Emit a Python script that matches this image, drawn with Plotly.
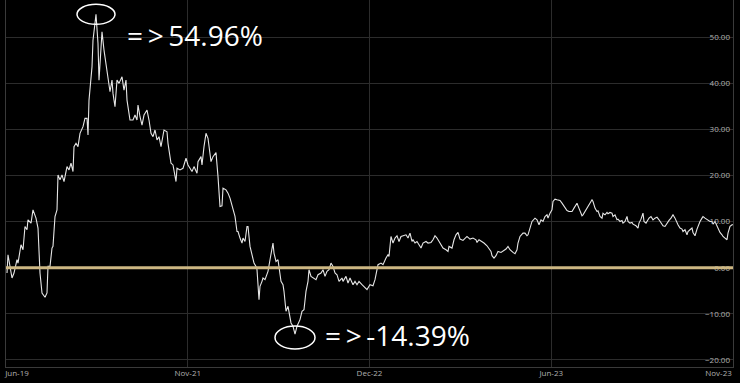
import plotly.graph_objects as go

# observation index (trading-session number) and cumulative return in %
obs = [1, 2, 6, 8, 11, 12, 15, 17, 19, 21, 22, 25, 27, 30, 32, 34, 36, 39, 41, 42, 44, 46, 47, 49, 51,
       52, 54, 56, 58, 61, 63, 65, 67, 68, 70, 72, 74, 77, 79, 81, 82, 83, 86, 87, 90, 92, 93, 95, 96,
       98, 101, 102, 104, 106, 107, 109, 111, 113, 116, 118, 120, 121, 124, 127, 129, 131, 132, 134,
       136, 138, 141, 143, 145, 147, 149, 151, 153, 155, 156, 158, 161, 162, 165, 167, 170, 171, 174,
       177, 180, 182, 186, 188, 191, 192, 195, 196, 198, 200, 202, 205, 207, 210, 212, 214, 216, 217,
       220, 222, 224, 226, 227, 229, 231, 232, 234, 236, 237, 239, 241, 242, 244, 246, 248, 250, 251,
       253, 254, 256, 257, 259, 261, 262, 264, 266, 267, 268, 270, 272, 273, 275, 277, 278, 280, 282,
       285, 287, 289, 291, 294, 296, 298, 300, 302, 303, 305, 307, 310, 312, 315, 317, 319, 321, 323,
       325, 327, 329, 331, 333, 336, 337, 340, 342, 344, 347, 349, 351, 353, 356, 358, 361, 363,
       364, 367, 369, 371, 372, 375, 377, 380, 382, 383, 385, 387, 389, 391, 393, 395, 397, 400, 402,
       404, 406, 407, 409, 411, 413, 415, 417, 420, 422, 425, 427, 429, 431, 433, 436, 437, 440, 442,
       443, 446, 448, 450, 452, 454, 457, 459, 461, 464, 467, 470, 471, 473, 476, 478, 481, 483, 485,
       486, 488, 490, 492, 495, 497, 500, 502, 504, 507, 509, 511, 512, 514, 517, 519, 521, 522, 524,
       526, 529, 531, 533, 535, 537, 539, 541, 542, 544, 546, 547, 549, 551, 554,
       556, 558, 561, 563, 566, 568, 571, 572, 574, 576, 577, 579, 581, 583, 586, 587, 589, 591, 592,
       594, 596, 597, 599, 601, 602, 604, 606, 607, 609, 611, 612, 614, 616, 617, 619, 621, 622, 624,
       626, 627, 630, 632, 633, 635, 637, 638, 640, 642, 643, 645, 647, 649, 651, 653, 655, 657, 659,
       661, 663, 665, 667, 669, 671, 672, 674, 676, 677, 679, 681, 682, 684, 686, 687, 689, 691, 692,
       694, 696, 697, 699, 701, 702, 704, 706, 707, 709, 711, 712, 714, 716, 717, 719, 721, 722, 724,
       726, 727]

pct = [-1.15, 2.81, -2.24, -1.15, 1.73, 1.01, 4.98, 3.90, 8.95, 8.23, 10.39, 9.67, 12.55, 10.75, 8.59,
       -1.15, -5.48, -6.42, -5.48, 0.29, 0.29, 4.26, 4.62, 11.11, 12.55,
       20.13, 19.05, 20.13, 18.69, 21.93, 21.21, 22.66, 20.85, 26.26, 26.98, 26.26, 29.15, 30.59, 32.40,
       32.40, 28.79, 36.36, 43.57, 49.35, 54.96, 48.63, 40.69, 46.47, 51.15,
       47.19, 42.86, 41.41, 38.16, 40.69, 37.81, 34.91, 40.69, 39.98, 41.41, 38.53, 40.69, 36.36, 32.03,
       32.03, 33.12, 32.03, 35.28, 32.75,
       30.95, 33.12, 34.20, 32.03, 29.15, 28.42, 29.87, 27.71, 28.42, 26.26, 27.71, 29.87, 29.50, 26.98,
       22.66, 22.29, 18.69, 21.57, 21.21,
       21.57, 23.74, 22.29, 20.85, 21.93, 20.49, 23.01, 24.09, 22.29, 26.26, 29.15, 28.07, 23.01, 24.09,
       24.96, 19.76, 13.27, 13.42, 17.25,
       16.88, 16.17, 15.09, 13.27, 12.92, 11.11, 7.86, 7.86, 6.43, 5.35, 6.43, 5.69, 8.95, 8.95, 4.62,
       2.81, 1.01, 0.29, -0.43,
       -6.93, -4.04, -2.96, -2.24, -2.60, -1.52, -0.79, 1.73, 4.62, 5.35, 3.17, 1.37, 1.73, -0.07, -2.96,
       -3.68, -5.12, -9.45, -8.37,
       -11.98, -12.70, -14.39, -12.70, -11.26, -9.45, -9.09, -5.12, -2.96, -0.43, -1.88, -2.24, -2.60,
       -1.52, -1.15, -0.43, -1.88, -0.79, -0.43,
       1.01, 0.29, -1.15, -1.52, -2.96, -2.24, -2.96, -1.88, -3.32, -2.24, -3.68, -2.96, -3.68, -2.96,
       -3.68, -4.04, -4.76, -4.04,
       -3.68, -3.90, -2.60, -0.43, 0.65, 1.01, 0.65, 2.09, 2.81, 2.45, 6.78, 5.35, 6.43, 6.93, 5.69, 6.78,
       6.93, 7.14, 6.43,
       7.51, 5.69, 6.06, 5.35, 5.69, 4.98, 4.26, 5.35, 5.69, 5.35, 5.48, 6.06, 6.93, 6.43, 5.69, 4.62,
       4.26, 3.90, 3.54,
       4.62, 4.26, 6.06, 7.14, 7.65, 6.20, 5.91, 6.43, 6.78, 6.20, 6.43, 6.06, 5.48, 6.06, 5.69, 5.35,
       4.76, 4.26, 3.54,
       2.60, 2.09, 2.60, 3.54, 3.32, 3.54, 4.04, 4.62, 3.90, 3.32, 3.03, 3.90, 5.35, 6.78, 7.51, 7.51,
       6.93, 7.14, 8.59,
       10.03, 10.75, 10.39, 9.31, 10.39, 10.03, 11.11, 11.47, 10.75, 11.83, 12.55, 14.36, 14.86, 14.72,
       14.57,
       14.00, 13.27, 12.41, 12.19, 12.19, 12.92, 14.00, 13.42, 12.19, 11.26, 11.47, 12.19, 12.92, 13.64,
       14.72, 14.36, 12.92, 12.19, 12.34,
       11.11, 10.75, 11.83, 11.47, 11.98, 11.69, 11.98, 11.83, 11.11, 11.47, 10.39, 10.53, 10.03, 10.25,
       9.67, 10.03, 11.11, 10.03, 9.67,
       9.81, 9.45, 9.09, 8.59, 9.67, 10.53, 11.83, 10.03, 9.67, 10.39, 10.75, 11.11, 10.39, 10.75, 10.97,
       10.39, 9.67, 9.09, 8.95,
       9.67, 10.25, 10.75, 11.47, 10.75, 9.67, 9.31, 8.59, 8.37, 7.86, 8.23, 7.14, 7.86, 8.23, 8.59,
       7.65, 6.93, 8.37, 8.95,
       10.03, 10.75, 11.11, 10.75, 10.53, 10.39, 10.03, 10.03, 9.45, 10.03, 8.95, 8.59, 7.65, 7.14, 6.78,
       6.43, 6.06, 7.51, 8.95,
       9.31, 9.31]

x_tick_labels = ["Jun-19", "Nov-21", "Dec-22", "Jun-23", "Nov-23"]
x_label_pos = [11, 181.75, 363.5, 545.25, 712.5]
x_grid_pos = [0, 181.75, 363.5, 545.25, 727]
y_ticks = [-20, -10, 0, 10, 20, 30, 40, 50]
y_range = [-21.54, 58.07]

hi = max(range(len(pct)), key=lambda i: pct[i])
lo = min(range(len(pct)), key=lambda i: pct[i])

fig = go.Figure()
fig.add_trace(go.Scatter(x=obs, y=pct, mode="lines",
                         line=dict(color="#e6e6e6", width=1.1),
                         hoverinfo="skip", showlegend=False))
# empty traces to activate the label-only overlay axes
fig.add_trace(go.Scatter(x=[], y=[], xaxis="x2", yaxis="y", showlegend=False))
fig.add_trace(go.Scatter(x=[], y=[], xaxis="x", yaxis="y2", showlegend=False))

# zero reference line
fig.add_hline(y=0, line=dict(color="#cdb783", width=3), layer="above")

# ellipses around the extreme points
fig.add_shape(type="circle", xref="x", yref="y", xsizemode="pixel", ysizemode="pixel",
              xanchor=obs[hi], yanchor=pct[hi], x0=-19, x1=19, y0=-10, y1=10,
              line=dict(color="white", width=1.5))
fig.add_shape(type="circle", xref="x", yref="y", xsizemode="pixel", ysizemode="pixel",
              xanchor=obs[lo], yanchor=pct[lo], x0=-20, x1=20, y0=-15, y1=8,
              line=dict(color="white", width=1.5))

fig.add_annotation(x=obs[hi], y=pct[hi], xref="x", yref="y", text=f"=\u2009>\u2009{pct[hi]:.2f}%",
                   showarrow=False, xanchor="left", yanchor="middle", xshift=29, yshift=-21,
                   font=dict(family="Open Sans", size=28, color="white"))
fig.add_annotation(x=obs[lo], y=pct[lo], xref="x", yref="y", text=f"=\u2009>\u2009{pct[lo]:.2f}%",
                   showarrow=False, xanchor="left", yanchor="middle", xshift=28, yshift=-1,
                   font=dict(family="Open Sans", size=28, color="white"))

tick_font = dict(family="Open Sans", size=8, color="#b0b0b0")

fig.update_layout(
    width=740, height=383,
    margin=dict(l=6, r=7, t=0, b=16),
    paper_bgcolor="black", plot_bgcolor="black",
    xaxis=dict(range=[0, 727], tickvals=x_grid_pos, showticklabels=False,
               showgrid=True, gridcolor="#2c2c2c", gridwidth=1, zeroline=False,
               showline=True, linecolor="#3a3a3a", linewidth=1, ticks=""),
    xaxis2=dict(range=[0, 727], overlaying="x", side="bottom", anchor="y",
                tickvals=x_label_pos, ticktext=x_tick_labels, showgrid=False,
                zeroline=False, showline=False, ticks="", tickfont=tick_font),
    yaxis=dict(range=y_range, side="right", tickvals=y_ticks, showticklabels=False,
               showgrid=True, gridcolor="#2c2c2c", gridwidth=1,
               zeroline=False, showline=True, mirror=True, linecolor="#3a3a3a", linewidth=1,
               ticks=""),
    yaxis2=dict(range=y_range, overlaying="y", side="right", anchor="x",
                tickvals=y_ticks, tickformat=".2f", ticklabelposition="inside",
                showgrid=False, zeroline=False, showline=False, ticks="", tickfont=tick_font),
    font=dict(family="Open Sans"),
)

fig.write_html("out.html")
